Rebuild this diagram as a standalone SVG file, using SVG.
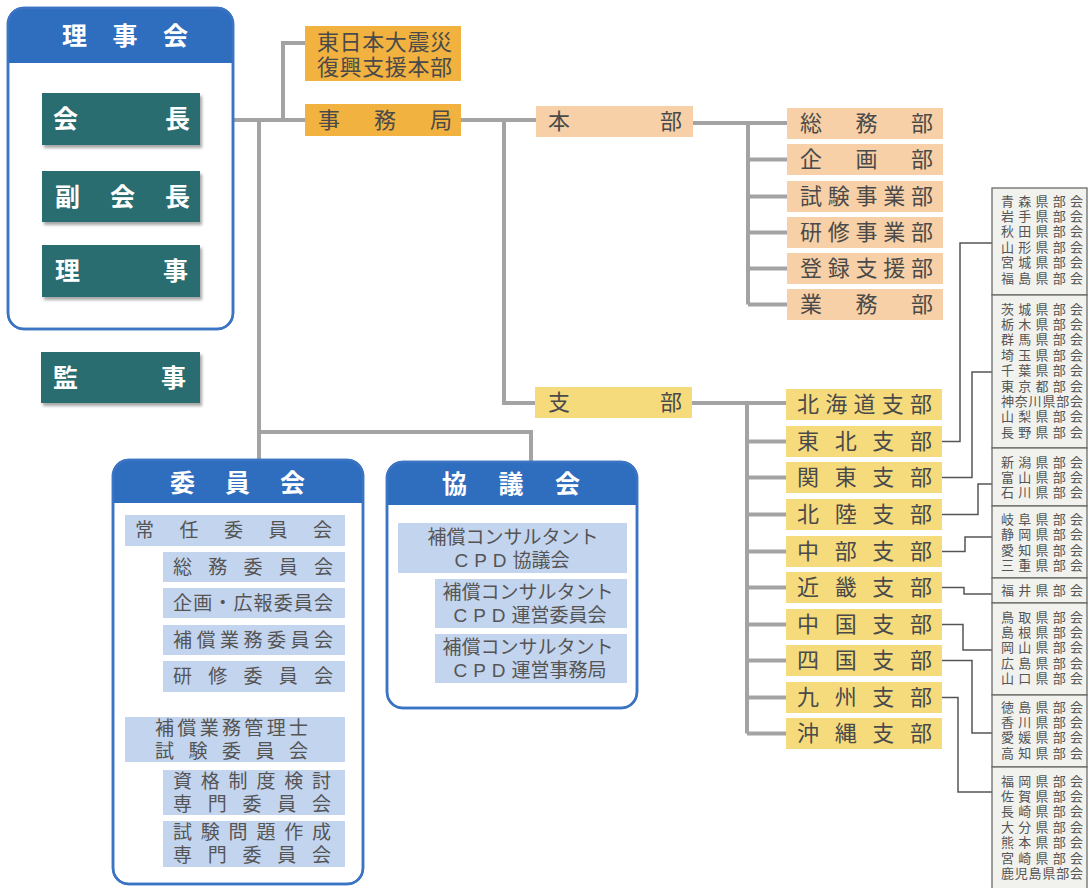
<svg xmlns="http://www.w3.org/2000/svg" width="1089" height="888" viewBox="0 0 1089 888">
<defs>
<style>
text{font-family:"Liberation Sans","Noto Sans CJK JP",sans-serif;dominant-baseline:central}
.hd{font-size:25px;font-weight:bold;fill:#fff}
.tl{font-size:25px;font-weight:bold;fill:#fff}
.t{font-size:22px;fill:#4a4a4a}
.c{font-size:19px;fill:#555}
.p{font-size:13px;fill:#555}
.frame{fill:#fff;stroke:#3a74c2;stroke-width:2.5}
.band{fill:#2f6dbf}
.teal{fill:#2c6d6f}
.or{fill:#f1b23f}
.pe{fill:#f7d0a7}
.ye{fill:#f6db7d}
.lb{fill:#c3d4ee}
.pg{fill:#f1f1ed;stroke:#6a6a6a;stroke-width:1.3}
.ln{fill:none;stroke:#a3a3a3;stroke-width:4}
.tn{fill:none;stroke:#555;stroke-width:1.5}
</style>
<filter id="sh" x="-10%" y="-10%" width="130%" height="140%"><feDropShadow dx="2" dy="3" stdDeviation="1.5" flood-color="#000" flood-opacity="0.35"/></filter>
</defs>
<rect width="1089" height="888" fill="#fff"/>

<g id="connectors">
<path class="ln" d="M233,120 H305 M283,120 V43 H305 M259,120 V460 M259,432 H531 V462"/>
<path class="ln" d="M461,120 H536 M504,120 V403 H535"/>
<path class="ln" d="M693,123 H787 M748,123 V304.5 M748,159.5 H787 M748,196.5 H787 M748,232.5 H787 M748,268.5 H787 M748,304.5 H787"/>
<path class="ln" d="M692,403 H786 M747,403 V733.5 M747,441.5 H786 M747,477.5 H786 M747,514.5 H786 M747,551.5 H786 M747,587.5 H786 M747,624.5 H786 M747,660.5 H786 M747,697.5 H786 M747,733.5 H786"/>
<path class="ln" d="M142,546 V677 M142,567 H163 M142,603 H163 M142,640 H163 M142,677 H163 M142,762 V845 M142,792 H163 M142,845 H163"/>
<path class="ln" d="M415,573 V658 M415,604 H435 M415,658 H435"/>
<path class="tn" d="M942,441.5 H960 V243 H992 M942,477.5 H972 V372 H992 M942,514.5 H978 V484 H992 M942,551.5 H965 V537 H992 M942,587.5 H964 V594 H992 M942,624.5 H963 V650 H992 M942,660.5 H972 V733 H992 M942,697.5 H958 V792 H992"/>
</g>

<g id="rijikai">
<rect class="frame" x="8" y="8" width="225" height="321" rx="16"/>
<path class="band" d="M8,63 V24 A16,16 0 0 1 24,8 H217 A16,16 0 0 1 233,24 V63 Z"/>
<rect x="8" y="8" width="225" height="321" rx="16" fill="none" stroke="#3a74c2" stroke-width="2.5"/>
<text class="hd" x="62" y="36" textLength="126" lengthAdjust="spacing">理事会</text>
</g>
<g id="kaicho"><rect class="teal" filter="url(#sh)" x="42" y="93" width="158" height="52"/><text class="tl" x="53" y="119" textLength="137" lengthAdjust="spacing">会長</text></g>
<g id="fukukaicho"><rect class="teal" filter="url(#sh)" x="42" y="171" width="158" height="51"/><text class="tl" x="55" y="197" textLength="135" lengthAdjust="spacing">副会長</text></g>
<g id="riji"><rect class="teal" filter="url(#sh)" x="42" y="245" width="158" height="52"/><text class="tl" x="55" y="271" textLength="133" lengthAdjust="spacing">理事</text></g>
<g id="kanji"><rect class="teal" filter="url(#sh)" x="41" y="352" width="159" height="51"/><text class="tl" x="53" y="378" textLength="133" lengthAdjust="spacing">監事</text></g>

<g id="shinsai"><rect class="or" x="305" y="26" width="156" height="55"/><text class="t" x="317" y="42" textLength="135" lengthAdjust="spacing">東日本大震災</text><text class="t" x="317" y="67" textLength="135" lengthAdjust="spacing">復興支援本部</text></g>
<g id="jimukyoku"><rect class="or" x="305" y="104" width="156" height="32"/><text class="t" x="318" y="120" textLength="134" lengthAdjust="spacing">事務局</text></g>

<g id="honbu"><rect class="pe" x="536" y="106" width="157" height="31"/><text class="t" x="548" y="121.5" textLength="134" lengthAdjust="spacing">本部</text></g>
<g id="somubu"><rect class="pe" x="787" y="108" width="156" height="31"/><text class="t" x="800" y="123.5" textLength="133" lengthAdjust="spacing">総務部</text></g>
<g id="kikakubu"><rect class="pe" x="787" y="144" width="156" height="31"/><text class="t" x="800" y="159.5" textLength="133" lengthAdjust="spacing">企画部</text></g>
<g id="shikenbu"><rect class="pe" x="787" y="181" width="156" height="31"/><text class="t" x="800" y="196.5" textLength="133" lengthAdjust="spacing">試験事業部</text></g>
<g id="kenshubu"><rect class="pe" x="787" y="217" width="156" height="31"/><text class="t" x="800" y="232.5" textLength="133" lengthAdjust="spacing">研修事業部</text></g>
<g id="torokubu"><rect class="pe" x="787" y="253" width="156" height="31"/><text class="t" x="800" y="268.5" textLength="133" lengthAdjust="spacing">登録支援部</text></g>
<g id="gyomubu"><rect class="pe" x="787" y="289" width="156" height="31"/><text class="t" x="800" y="304.5" textLength="133" lengthAdjust="spacing">業務部</text></g>

<g id="shibu"><rect class="ye" x="535" y="387" width="157" height="31"/><text class="t" x="548" y="402.5" textLength="134" lengthAdjust="spacing">支部</text></g>
<g id="hokkaido"><rect class="ye" x="786" y="389" width="156" height="31"/><text class="t" x="797" y="404.5" textLength="135" lengthAdjust="spacing">北海道支部</text></g>
<g id="tohoku"><rect class="ye" x="786" y="426" width="156" height="31"/><text class="t" x="797" y="441.5" textLength="135" lengthAdjust="spacing">東北支部</text></g>
<g id="kanto"><rect class="ye" x="786" y="462" width="156" height="31"/><text class="t" x="797" y="477.5" textLength="135" lengthAdjust="spacing">関東支部</text></g>
<g id="hokuriku"><rect class="ye" x="786" y="499" width="156" height="31"/><text class="t" x="797" y="514.5" textLength="135" lengthAdjust="spacing">北陸支部</text></g>
<g id="chubu"><rect class="ye" x="786" y="536" width="156" height="31"/><text class="t" x="797" y="551.5" textLength="135" lengthAdjust="spacing">中部支部</text></g>
<g id="kinki"><rect class="ye" x="786" y="572" width="156" height="31"/><text class="t" x="797" y="587.5" textLength="135" lengthAdjust="spacing">近畿支部</text></g>
<g id="chugoku"><rect class="ye" x="786" y="609" width="156" height="31"/><text class="t" x="797" y="624.5" textLength="135" lengthAdjust="spacing">中国支部</text></g>
<g id="shikoku"><rect class="ye" x="786" y="645" width="156" height="31"/><text class="t" x="797" y="660.5" textLength="135" lengthAdjust="spacing">四国支部</text></g>
<g id="kyushu"><rect class="ye" x="786" y="682" width="156" height="31"/><text class="t" x="797" y="697.5" textLength="135" lengthAdjust="spacing">九州支部</text></g>
<g id="okinawa"><rect class="ye" x="786" y="718" width="156" height="31"/><text class="t" x="797" y="733.5" textLength="135" lengthAdjust="spacing">沖縄支部</text></g>

<g id="pref-tohoku"><rect class="pg" x="992" y="188" width="95" height="107"/>
<text class="p" x="1001" y="201" textLength="82" lengthAdjust="spacing">青森県部会</text>
<text class="p" x="1001" y="216.4" textLength="82" lengthAdjust="spacing">岩手県部会</text>
<text class="p" x="1001" y="231.8" textLength="82" lengthAdjust="spacing">秋田県部会</text>
<text class="p" x="1001" y="247.2" textLength="82" lengthAdjust="spacing">山形県部会</text>
<text class="p" x="1001" y="262.6" textLength="82" lengthAdjust="spacing">宮城県部会</text>
<text class="p" x="1001" y="278" textLength="82" lengthAdjust="spacing">福島県部会</text></g>
<g id="pref-kanto"><rect class="pg" x="992" y="295" width="95" height="153"/>
<text class="p" x="1001" y="309" textLength="82" lengthAdjust="spacing">茨城県部会</text>
<text class="p" x="1001" y="324.4" textLength="82" lengthAdjust="spacing">栃木県部会</text>
<text class="p" x="1001" y="339.8" textLength="82" lengthAdjust="spacing">群馬県部会</text>
<text class="p" x="1001" y="355.2" textLength="82" lengthAdjust="spacing">埼玉県部会</text>
<text class="p" x="1001" y="370.6" textLength="82" lengthAdjust="spacing">千葉県部会</text>
<text class="p" x="1001" y="386" textLength="82" lengthAdjust="spacing">東京都部会</text>
<text class="p" x="1001" y="401.4" textLength="82" lengthAdjust="spacing">神奈川県部会</text>
<text class="p" x="1001" y="416.8" textLength="82" lengthAdjust="spacing">山梨県部会</text>
<text class="p" x="1001" y="432.2" textLength="82" lengthAdjust="spacing">長野県部会</text></g>
<g id="pref-hokuriku"><rect class="pg" x="992" y="448" width="95" height="58"/>
<text class="p" x="1001" y="462" textLength="82" lengthAdjust="spacing">新潟県部会</text>
<text class="p" x="1001" y="477.4" textLength="82" lengthAdjust="spacing">富山県部会</text>
<text class="p" x="1001" y="492.8" textLength="82" lengthAdjust="spacing">石川県部会</text></g>
<g id="pref-chubu"><rect class="pg" x="992" y="506" width="95" height="72"/>
<text class="p" x="1001" y="519.5" textLength="82" lengthAdjust="spacing">岐阜県部会</text>
<text class="p" x="1001" y="534.9" textLength="82" lengthAdjust="spacing">静岡県部会</text>
<text class="p" x="1001" y="550.3" textLength="82" lengthAdjust="spacing">愛知県部会</text>
<text class="p" x="1001" y="565.7" textLength="82" lengthAdjust="spacing">三重県部会</text></g>
<g id="pref-kinki"><rect class="pg" x="992" y="578" width="95" height="25"/>
<text class="p" x="1001" y="590.5" textLength="82" lengthAdjust="spacing">福井県部会</text></g>
<g id="pref-chugoku"><rect class="pg" x="992" y="603" width="95" height="92"/>
<text class="p" x="1001" y="617" textLength="82" lengthAdjust="spacing">鳥取県部会</text>
<text class="p" x="1001" y="632.4" textLength="82" lengthAdjust="spacing">島根県部会</text>
<text class="p" x="1001" y="647.8" textLength="82" lengthAdjust="spacing">岡山県部会</text>
<text class="p" x="1001" y="663.2" textLength="82" lengthAdjust="spacing">広島県部会</text>
<text class="p" x="1001" y="678.6" textLength="82" lengthAdjust="spacing">山口県部会</text></g>
<g id="pref-shikoku"><rect class="pg" x="992" y="695" width="95" height="72"/>
<text class="p" x="1001" y="707" textLength="82" lengthAdjust="spacing">徳島県部会</text>
<text class="p" x="1001" y="722.4" textLength="82" lengthAdjust="spacing">香川県部会</text>
<text class="p" x="1001" y="737.8" textLength="82" lengthAdjust="spacing">愛媛県部会</text>
<text class="p" x="1001" y="753.2" textLength="82" lengthAdjust="spacing">高知県部会</text></g>
<g id="pref-kyushu"><rect class="pg" x="992" y="767" width="95" height="122"/>
<text class="p" x="1001" y="781" textLength="82" lengthAdjust="spacing">福岡県部会</text>
<text class="p" x="1001" y="796.4" textLength="82" lengthAdjust="spacing">佐賀県部会</text>
<text class="p" x="1001" y="811.8" textLength="82" lengthAdjust="spacing">長崎県部会</text>
<text class="p" x="1001" y="827.2" textLength="82" lengthAdjust="spacing">大分県部会</text>
<text class="p" x="1001" y="842.6" textLength="82" lengthAdjust="spacing">熊本県部会</text>
<text class="p" x="1001" y="858" textLength="82" lengthAdjust="spacing">宮崎県部会</text>
<text class="p" x="1001" y="873.4" textLength="82" lengthAdjust="spacing">鹿児島県部会</text></g>

<g id="iinkai">
<rect class="frame" x="113" y="460" width="250" height="424" rx="16"/>
<path class="band" d="M113,503 V476 A16,16 0 0 1 129,460 H347 A16,16 0 0 1 363,476 V503 Z"/>
<rect x="113" y="460" width="250" height="424" rx="16" fill="none" stroke="#3a74c2" stroke-width="2.5"/>
<text class="hd" x="170" y="483" textLength="135" lengthAdjust="spacing">委員会</text>
</g>
<g id="joniniinkai"><rect class="lb" x="125" y="515" width="220" height="31"/><text class="c" x="135" y="530.5" textLength="197" lengthAdjust="spacing">常任委員会</text></g>
<g id="somuiinkai"><rect class="lb" x="163" y="552" width="182" height="30"/><text class="c" x="173" y="567" textLength="160" lengthAdjust="spacing">総務委員会</text></g>
<g id="kikakuiinkai"><rect class="lb" x="163" y="588" width="182" height="30"/><text class="c" x="173" y="603" textLength="160" lengthAdjust="spacing">企画・広報委員会</text></g>
<g id="hoshoiinkai"><rect class="lb" x="163" y="625" width="182" height="30"/><text class="c" x="173" y="640" textLength="160" lengthAdjust="spacing">補償業務委員会</text></g>
<g id="kenshuiinkai"><rect class="lb" x="163" y="661" width="182" height="31"/><text class="c" x="173" y="676.5" textLength="160" lengthAdjust="spacing">研修委員会</text></g>
<g id="shikeniinkai"><rect class="lb" x="125" y="717" width="220" height="45"/><text class="c" x="155" y="728" textLength="153" lengthAdjust="spacing">補償業務管理士</text><text class="c" x="155" y="751" textLength="153" lengthAdjust="spacing">試験委員会</text></g>
<g id="shikakuiinkai"><rect class="lb" x="163" y="770" width="182" height="45"/><text class="c" x="173" y="781" textLength="158" lengthAdjust="spacing">資格制度検討</text><text class="c" x="173" y="804" textLength="158" lengthAdjust="spacing">専門委員会</text></g>
<g id="mondaiiinkai"><rect class="lb" x="163" y="821" width="182" height="46"/><text class="c" x="173" y="832" textLength="158" lengthAdjust="spacing">試験問題作成</text><text class="c" x="173" y="855" textLength="158" lengthAdjust="spacing">専門委員会</text></g>

<g id="kyogikai">
<rect class="frame" x="387" y="462" width="250" height="246" rx="16"/>
<path class="band" d="M387,505 V478 A16,16 0 0 1 403,462 H621 A16,16 0 0 1 637,478 V505 Z"/>
<rect x="387" y="462" width="250" height="246" rx="16" fill="none" stroke="#3a74c2" stroke-width="2.5"/>
<text class="hd" x="442" y="484" textLength="138" lengthAdjust="spacing">協議会</text>
</g>
<g id="cpdkyogikai"><rect class="lb" x="398" y="523" width="229" height="50"/><text class="c" x="513" y="537.5" text-anchor="middle">補償コンサルタント</text><text class="c" x="512" y="560" text-anchor="middle"><tspan letter-spacing="6">CPD</tspan>協議会</text></g>
<g id="cpdunei"><rect class="lb" x="435" y="579" width="192" height="49"/><text class="c" x="528" y="592.5" text-anchor="middle">補償コンサルタント</text><text class="c" x="530" y="615" text-anchor="middle"><tspan letter-spacing="6">CPD</tspan>運営委員会</text></g>
<g id="cpdjimukyoku"><rect class="lb" x="435" y="634" width="192" height="49"/><text class="c" x="528" y="647.5" text-anchor="middle">補償コンサルタント</text><text class="c" x="530" y="670" text-anchor="middle"><tspan letter-spacing="6">CPD</tspan>運営事務局</text></g>
</svg>
